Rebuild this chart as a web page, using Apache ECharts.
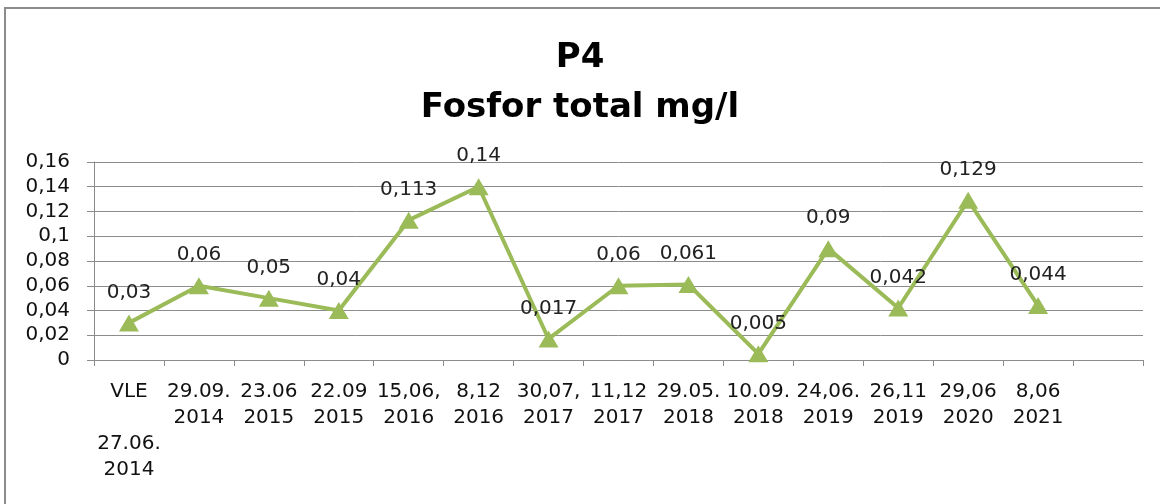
<!DOCTYPE html>
<html>
<head>
<meta charset="utf-8">
<script src="https://cdn.jsdelivr.net/npm/echarts@6/dist/echarts.min.js"></script>
<style>
  html, body { margin: 0; padding: 0; background: #fff; }
  #chart { width: 1160px; height: 504px; }
</style>
</head>
<body>
<div id="chart"></div>
<script>
// data
var categories = [
  "VLE\n\n27.06.\n2014", "29.09.\n2014", "23.06\n2015", "22.09\n2015",
  "15,06,\n2016", "8,12\n2016", "30,07,\n2017", "11,12\n2017",
  "29.05.\n2018", "10.09.\n2018", "24,06.\n2019", "26,11\n2019",
  "29,06\n2020", "8,06\n2021", ""
];
var fosforValues = [0.03, 0.06, 0.05, 0.04, 0.113, 0.14, 0.017, 0.06, 0.061, 0.005, 0.09, 0.042, 0.129, 0.044, null];
var titleText = "P4\nFosfor total mg/l";

var fmt = function (v) {
  return String(v).replace(".", ",");
};

var myChart = echarts.init(document.getElementById("chart"));
myChart.setOption({
  animation: false,
  backgroundColor: "#fff",
  textStyle: { fontFamily: "DejaVu Sans" },
  graphic: [
    {
      type: "rect",
      shape: { x: 5, y: 8, width: 1300, height: 600 },
      style: { fill: "none", stroke: "#8c8c8c", lineWidth: 2 }
    }
  ],
  title: {
    text: titleText,
    left: "center",
    top: 28,
    textStyle: {
      fontFamily: "DejaVu Sans",
      fontSize: 34,
      fontWeight: "bold",
      color: "#000",
      lineHeight: 50
    }
  },
  grid: { left: 94, right: 17, top: 162, bottom: 144 },
  xAxis: {
    type: "category",
    data: categories,
    boundaryGap: true,
    axisLine: { lineStyle: { color: "#8c8c8c", width: 1 } },
    axisTick: { show: true, length: 6, lineStyle: { color: "#8c8c8c" } },
    axisLabel: {
      interval: 0,
      margin: 19,
      fontSize: 20,
      lineHeight: 26,
      color: "#111",
      fontFamily: "DejaVu Sans"
    }
  },
  yAxis: {
    type: "value",
    min: 0,
    max: 0.16,
    interval: 0.02,
    axisLine: { show: true, lineStyle: { color: "#8c8c8c", width: 1 } },
    axisTick: { show: true, length: 7, lineStyle: { color: "#8c8c8c" } },
    splitLine: { lineStyle: { color: "#8c8c8c", width: 1 } },
    axisLabel: {
      margin: 24,
      fontSize: 20,
      color: "#111",
      fontFamily: "DejaVu Sans",
      formatter: function (v) {
        return fmt(parseFloat(v.toFixed(2)));
      }
    }
  },
  series: [
    {
      type: "line",
      data: fosforValues,
      symbol: "triangle",
      symbolSize: [20, 17],
      lineStyle: { color: "#9bbb59", width: 4 },
      itemStyle: { color: "#9bbb59" },
      label: {
        show: true,
        position: "top",
        distance: 12,
        fontSize: 20,
        color: "#222",
        fontFamily: "DejaVu Sans",
        formatter: function (p) {
          return fmt(p.value);
        }
      }
    }
  ]
});
</script>
</body>
</html>
